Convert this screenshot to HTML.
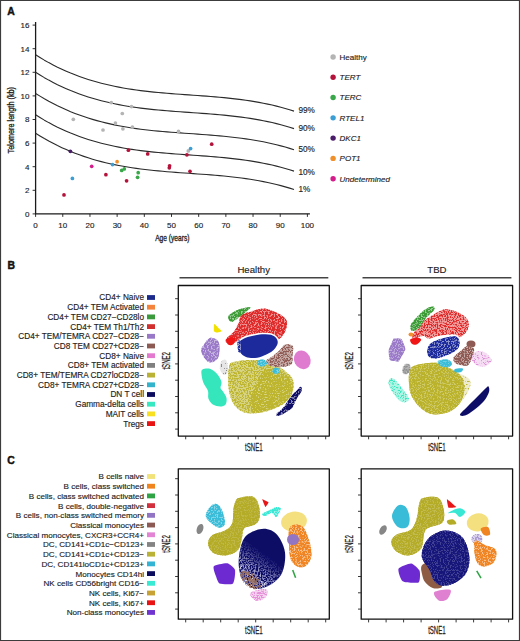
<!DOCTYPE html>
<html><head><meta charset="utf-8"><style>
html,body{margin:0;padding:0;background:#fff;}
text{stroke:#222;stroke-width:0.14px;}
body{width:520px;height:641px;overflow:hidden;position:relative;}
svg{position:absolute;left:0;top:0;}
</style></head><body>
<svg width="520" height="641" viewBox="0 0 520 641" font-family='"Liberation Sans", sans-serif' stroke-linejoin="round">
<rect x="0" y="0" width="520" height="641" fill="#fff"/>
<text x="7.20" y="15.30" font-size="10.40" text-anchor="start" font-weight="bold" font-style="normal" fill="#111" style="stroke:#111;stroke-width:0.45px">A</text>
<line x1="35.60" y1="22.00" x2="35.60" y2="213.90" stroke="#1a1a1a" stroke-width="1.3"/>
<line x1="35.00" y1="213.90" x2="309.90" y2="213.90" stroke="#1a1a1a" stroke-width="1.3"/>
<line x1="32.60" y1="213.90" x2="35.60" y2="213.90" stroke="#1a1a1a" stroke-width="0.9"/>
<text x="29.40" y="216.80" font-size="8.00" text-anchor="end" font-weight="normal" font-style="normal" fill="#222" >0</text>
<line x1="32.60" y1="190.30" x2="35.60" y2="190.30" stroke="#1a1a1a" stroke-width="0.9"/>
<text x="29.40" y="193.20" font-size="8.00" text-anchor="end" font-weight="normal" font-style="normal" fill="#222" >2</text>
<line x1="32.60" y1="166.70" x2="35.60" y2="166.70" stroke="#1a1a1a" stroke-width="0.9"/>
<text x="29.40" y="169.60" font-size="8.00" text-anchor="end" font-weight="normal" font-style="normal" fill="#222" >4</text>
<line x1="32.60" y1="143.10" x2="35.60" y2="143.10" stroke="#1a1a1a" stroke-width="0.9"/>
<text x="29.40" y="146.00" font-size="8.00" text-anchor="end" font-weight="normal" font-style="normal" fill="#222" >6</text>
<line x1="32.60" y1="119.50" x2="35.60" y2="119.50" stroke="#1a1a1a" stroke-width="0.9"/>
<text x="29.40" y="122.40" font-size="8.00" text-anchor="end" font-weight="normal" font-style="normal" fill="#222" >8</text>
<line x1="32.60" y1="95.90" x2="35.60" y2="95.90" stroke="#1a1a1a" stroke-width="0.9"/>
<text x="29.40" y="98.80" font-size="8.00" text-anchor="end" font-weight="normal" font-style="normal" fill="#222" >10</text>
<line x1="32.60" y1="72.30" x2="35.60" y2="72.30" stroke="#1a1a1a" stroke-width="0.9"/>
<text x="29.40" y="75.20" font-size="8.00" text-anchor="end" font-weight="normal" font-style="normal" fill="#222" >12</text>
<line x1="32.60" y1="48.70" x2="35.60" y2="48.70" stroke="#1a1a1a" stroke-width="0.9"/>
<text x="29.40" y="51.60" font-size="8.00" text-anchor="end" font-weight="normal" font-style="normal" fill="#222" >14</text>
<line x1="32.60" y1="25.10" x2="35.60" y2="25.10" stroke="#1a1a1a" stroke-width="0.9"/>
<text x="29.40" y="28.00" font-size="8.00" text-anchor="end" font-weight="normal" font-style="normal" fill="#222" >16</text>
<line x1="35.60" y1="213.90" x2="35.60" y2="216.90" stroke="#1a1a1a" stroke-width="0.9"/>
<text x="35.60" y="227.80" font-size="8.00" text-anchor="middle" font-weight="normal" font-style="normal" fill="#222" >0</text>
<line x1="62.78" y1="213.90" x2="62.78" y2="216.90" stroke="#1a1a1a" stroke-width="0.9"/>
<text x="62.78" y="227.80" font-size="8.00" text-anchor="middle" font-weight="normal" font-style="normal" fill="#222" >10</text>
<line x1="89.96" y1="213.90" x2="89.96" y2="216.90" stroke="#1a1a1a" stroke-width="0.9"/>
<text x="89.96" y="227.80" font-size="8.00" text-anchor="middle" font-weight="normal" font-style="normal" fill="#222" >20</text>
<line x1="117.14" y1="213.90" x2="117.14" y2="216.90" stroke="#1a1a1a" stroke-width="0.9"/>
<text x="117.14" y="227.80" font-size="8.00" text-anchor="middle" font-weight="normal" font-style="normal" fill="#222" >30</text>
<line x1="144.32" y1="213.90" x2="144.32" y2="216.90" stroke="#1a1a1a" stroke-width="0.9"/>
<text x="144.32" y="227.80" font-size="8.00" text-anchor="middle" font-weight="normal" font-style="normal" fill="#222" >40</text>
<line x1="171.50" y1="213.90" x2="171.50" y2="216.90" stroke="#1a1a1a" stroke-width="0.9"/>
<text x="171.50" y="227.80" font-size="8.00" text-anchor="middle" font-weight="normal" font-style="normal" fill="#222" >50</text>
<line x1="198.68" y1="213.90" x2="198.68" y2="216.90" stroke="#1a1a1a" stroke-width="0.9"/>
<text x="198.68" y="227.80" font-size="8.00" text-anchor="middle" font-weight="normal" font-style="normal" fill="#222" >60</text>
<line x1="225.86" y1="213.90" x2="225.86" y2="216.90" stroke="#1a1a1a" stroke-width="0.9"/>
<text x="225.86" y="227.80" font-size="8.00" text-anchor="middle" font-weight="normal" font-style="normal" fill="#222" >70</text>
<line x1="253.04" y1="213.90" x2="253.04" y2="216.90" stroke="#1a1a1a" stroke-width="0.9"/>
<text x="253.04" y="227.80" font-size="8.00" text-anchor="middle" font-weight="normal" font-style="normal" fill="#222" >80</text>
<line x1="280.22" y1="213.90" x2="280.22" y2="216.90" stroke="#1a1a1a" stroke-width="0.9"/>
<text x="280.22" y="227.80" font-size="8.00" text-anchor="middle" font-weight="normal" font-style="normal" fill="#222" >90</text>
<line x1="307.40" y1="213.90" x2="307.40" y2="216.90" stroke="#1a1a1a" stroke-width="0.9"/>
<text x="307.40" y="227.80" font-size="8.00" text-anchor="middle" font-weight="normal" font-style="normal" fill="#222" >100</text>
<text transform="translate(14.2,120.2) rotate(-90) scale(0.88,1)" font-size="8.3" text-anchor="middle" fill="#222" style="stroke-width:0.32px">Telomere length (kb)</text>
<text transform="translate(172.3,240.8) scale(0.8,1)" font-size="8.3" text-anchor="middle" fill="#222" style="stroke-width:0.32px">Age (years)</text>
<path d="M35.60,54.82 L39.98,57.55 L44.36,60.15 L48.74,62.61 L53.12,64.94 L57.50,67.15 L61.88,69.23 L66.26,71.20 L70.64,73.06 L75.02,74.80 L79.40,76.44 L83.78,77.98 L88.16,79.42 L92.54,80.77 L96.92,82.03 L101.29,83.20 L105.67,84.29 L110.05,85.31 L114.43,86.25 L118.81,87.12 L123.19,87.93 L127.57,88.67 L131.95,89.36 L136.33,90.00 L140.71,90.58 L145.09,91.12 L149.47,91.62 L153.85,92.08 L158.23,92.51 L162.61,92.91 L166.99,93.28 L171.37,93.64 L175.75,93.97 L180.13,94.29 L184.51,94.61 L188.89,94.92 L193.27,95.22 L197.65,95.53 L202.03,95.85 L206.41,96.17 L210.79,96.51 L215.17,96.87 L219.55,97.26 L223.93,97.67 L228.31,98.11 L232.68,98.58 L237.06,99.10 L241.44,99.65 L245.82,100.26 L250.20,100.91 L254.58,101.62 L258.96,102.39 L263.34,103.22 L267.72,104.12 L272.10,105.08 L276.48,106.13 L280.86,107.25 L285.24,108.45 L289.62,109.75 L294.00,111.13" fill="none" stroke="#2a2a2a" stroke-width="1.1"/>
<text x="298.40" y="113.25" font-size="8.20" text-anchor="start" font-weight="normal" font-style="normal" fill="#222" >99%</text>
<path d="M35.60,72.32 L39.98,75.05 L44.36,77.65 L48.74,80.11 L53.12,82.44 L57.50,84.65 L61.88,86.73 L66.26,88.70 L70.64,90.56 L75.02,92.30 L79.40,93.94 L83.78,95.48 L88.16,96.92 L92.54,98.27 L96.92,99.53 L101.29,100.70 L105.67,101.79 L110.05,102.81 L114.43,103.75 L118.81,104.62 L123.19,105.43 L127.57,106.17 L131.95,106.86 L136.33,107.50 L140.71,108.08 L145.09,108.62 L149.47,109.12 L153.85,109.58 L158.23,110.01 L162.61,110.41 L166.99,110.78 L171.37,111.14 L175.75,111.47 L180.13,111.79 L184.51,112.11 L188.89,112.42 L193.27,112.72 L197.65,113.03 L202.03,113.35 L206.41,113.67 L210.79,114.01 L215.17,114.37 L219.55,114.76 L223.93,115.17 L228.31,115.61 L232.68,116.08 L237.06,116.60 L241.44,117.15 L245.82,117.76 L250.20,118.41 L254.58,119.12 L258.96,119.89 L263.34,120.72 L267.72,121.62 L272.10,122.58 L276.48,123.63 L280.86,124.75 L285.24,125.95 L289.62,127.25 L294.00,128.63" fill="none" stroke="#2a2a2a" stroke-width="1.1"/>
<text x="298.40" y="131.05" font-size="8.20" text-anchor="start" font-weight="normal" font-style="normal" fill="#222" >90%</text>
<path d="M35.60,93.42 L39.98,96.15 L44.36,98.75 L48.74,101.21 L53.12,103.54 L57.50,105.75 L61.88,107.83 L66.26,109.80 L70.64,111.66 L75.02,113.40 L79.40,115.04 L83.78,116.58 L88.16,118.02 L92.54,119.37 L96.92,120.63 L101.29,121.80 L105.67,122.89 L110.05,123.91 L114.43,124.85 L118.81,125.72 L123.19,126.53 L127.57,127.27 L131.95,127.96 L136.33,128.60 L140.71,129.18 L145.09,129.72 L149.47,130.22 L153.85,130.68 L158.23,131.11 L162.61,131.51 L166.99,131.88 L171.37,132.24 L175.75,132.57 L180.13,132.89 L184.51,133.21 L188.89,133.52 L193.27,133.82 L197.65,134.13 L202.03,134.45 L206.41,134.77 L210.79,135.11 L215.17,135.47 L219.55,135.86 L223.93,136.27 L228.31,136.71 L232.68,137.18 L237.06,137.70 L241.44,138.25 L245.82,138.86 L250.20,139.51 L254.58,140.22 L258.96,140.99 L263.34,141.82 L267.72,142.72 L272.10,143.68 L276.48,144.73 L280.86,145.85 L285.24,147.05 L289.62,148.35 L294.00,149.73" fill="none" stroke="#2a2a2a" stroke-width="1.1"/>
<text x="298.40" y="152.25" font-size="8.20" text-anchor="start" font-weight="normal" font-style="normal" fill="#222" >50%</text>
<path d="M35.60,114.82 L39.98,117.55 L44.36,120.15 L48.74,122.61 L53.12,124.94 L57.50,127.15 L61.88,129.23 L66.26,131.20 L70.64,133.06 L75.02,134.80 L79.40,136.44 L83.78,137.98 L88.16,139.42 L92.54,140.77 L96.92,142.03 L101.29,143.20 L105.67,144.29 L110.05,145.31 L114.43,146.25 L118.81,147.12 L123.19,147.93 L127.57,148.67 L131.95,149.36 L136.33,150.00 L140.71,150.58 L145.09,151.12 L149.47,151.62 L153.85,152.08 L158.23,152.51 L162.61,152.91 L166.99,153.28 L171.37,153.64 L175.75,153.97 L180.13,154.29 L184.51,154.61 L188.89,154.92 L193.27,155.22 L197.65,155.53 L202.03,155.85 L206.41,156.17 L210.79,156.51 L215.17,156.87 L219.55,157.26 L223.93,157.67 L228.31,158.11 L232.68,158.58 L237.06,159.10 L241.44,159.65 L245.82,160.26 L250.20,160.91 L254.58,161.62 L258.96,162.39 L263.34,163.22 L267.72,164.12 L272.10,165.08 L276.48,166.13 L280.86,167.25 L285.24,168.45 L289.62,169.75 L294.00,171.13" fill="none" stroke="#2a2a2a" stroke-width="1.1"/>
<text x="298.40" y="175.05" font-size="8.20" text-anchor="start" font-weight="normal" font-style="normal" fill="#222" >10%</text>
<path d="M35.60,133.22 L39.98,135.95 L44.36,138.55 L48.74,141.01 L53.12,143.34 L57.50,145.55 L61.88,147.63 L66.26,149.60 L70.64,151.46 L75.02,153.20 L79.40,154.84 L83.78,156.38 L88.16,157.82 L92.54,159.17 L96.92,160.43 L101.29,161.60 L105.67,162.69 L110.05,163.71 L114.43,164.65 L118.81,165.52 L123.19,166.33 L127.57,167.07 L131.95,167.76 L136.33,168.40 L140.71,168.98 L145.09,169.52 L149.47,170.02 L153.85,170.48 L158.23,170.91 L162.61,171.31 L166.99,171.68 L171.37,172.04 L175.75,172.37 L180.13,172.69 L184.51,173.01 L188.89,173.32 L193.27,173.62 L197.65,173.93 L202.03,174.25 L206.41,174.57 L210.79,174.91 L215.17,175.27 L219.55,175.66 L223.93,176.07 L228.31,176.51 L232.68,176.98 L237.06,177.50 L241.44,178.05 L245.82,178.66 L250.20,179.31 L254.58,180.02 L258.96,180.79 L263.34,181.62 L267.72,182.52 L272.10,183.48 L276.48,184.53 L280.86,185.65 L285.24,186.85 L289.62,188.15 L294.00,189.53" fill="none" stroke="#2a2a2a" stroke-width="1.1"/>
<text x="298.40" y="191.95" font-size="8.20" text-anchor="start" font-weight="normal" font-style="normal" fill="#222" >1%</text>
<circle cx="111.3" cy="102.6" r="1.85" fill="#b4b4b4"/>
<circle cx="131.5" cy="106.6" r="1.85" fill="#b4b4b4"/>
<circle cx="122.3" cy="113.5" r="1.85" fill="#b4b4b4"/>
<circle cx="73.3" cy="119.3" r="1.85" fill="#b4b4b4"/>
<circle cx="115.4" cy="123.1" r="1.85" fill="#b4b4b4"/>
<circle cx="103.0" cy="130.0" r="1.85" fill="#b4b4b4"/>
<circle cx="122.9" cy="128.8" r="1.85" fill="#b4b4b4"/>
<circle cx="132.4" cy="127.1" r="1.85" fill="#b4b4b4"/>
<circle cx="178.5" cy="131.4" r="1.85" fill="#b4b4b4"/>
<circle cx="188.3" cy="150.9" r="1.85" fill="#b4b4b4"/>
<circle cx="128.4" cy="150.2" r="1.85" fill="#b5123b"/>
<circle cx="147.7" cy="153.9" r="1.85" fill="#b5123b"/>
<circle cx="169.6" cy="165.8" r="1.85" fill="#b5123b"/>
<circle cx="169.3" cy="167.8" r="1.85" fill="#b5123b"/>
<circle cx="105.9" cy="174.7" r="1.85" fill="#b5123b"/>
<circle cx="126.6" cy="180.8" r="1.85" fill="#b5123b"/>
<circle cx="64.0" cy="194.9" r="1.85" fill="#b5123b"/>
<circle cx="186.9" cy="154.8" r="1.85" fill="#b5123b"/>
<circle cx="211.7" cy="144.2" r="1.85" fill="#b5123b"/>
<circle cx="190.0" cy="171.3" r="1.85" fill="#b5123b"/>
<circle cx="121.7" cy="170.4" r="1.85" fill="#3aa84a"/>
<circle cx="124.3" cy="168.9" r="1.85" fill="#3aa84a"/>
<circle cx="138.2" cy="172.7" r="1.85" fill="#3aa84a"/>
<circle cx="137.6" cy="177.3" r="1.85" fill="#3aa84a"/>
<circle cx="112.5" cy="164.6" r="1.85" fill="#3b9fd6"/>
<circle cx="72.4" cy="178.4" r="1.85" fill="#3b9fd6"/>
<circle cx="190.6" cy="148.6" r="1.85" fill="#3b9fd6"/>
<circle cx="70.4" cy="151.3" r="1.85" fill="#4a1c6a"/>
<circle cx="117.1" cy="161.7" r="1.85" fill="#f0902a"/>
<circle cx="91.7" cy="166.3" r="1.85" fill="#d41c8a"/>
<circle cx="333.1" cy="57.00" r="2.7" fill="#b4b4b4"/>
<text x="339.60" y="59.90" font-size="8.00" text-anchor="start" font-weight="normal" font-style="normal" fill="#222" >Healthy</text>
<circle cx="333.1" cy="77.28" r="2.7" fill="#b5123b"/>
<text x="339.60" y="80.18" font-size="8.00" text-anchor="start" font-weight="normal" font-style="italic" fill="#222" >TERT</text>
<circle cx="333.1" cy="97.56" r="2.7" fill="#3aa84a"/>
<text x="339.60" y="100.46" font-size="8.00" text-anchor="start" font-weight="normal" font-style="italic" fill="#222" >TERC</text>
<circle cx="333.1" cy="117.84" r="2.7" fill="#3b9fd6"/>
<text x="339.60" y="120.74" font-size="8.00" text-anchor="start" font-weight="normal" font-style="italic" fill="#222" >RTEL1</text>
<circle cx="333.1" cy="138.12" r="2.7" fill="#4a1c6a"/>
<text x="339.60" y="141.02" font-size="8.00" text-anchor="start" font-weight="normal" font-style="italic" fill="#222" >DKC1</text>
<circle cx="333.1" cy="158.40" r="2.7" fill="#f0902a"/>
<text x="339.60" y="161.30" font-size="8.00" text-anchor="start" font-weight="normal" font-style="italic" fill="#222" >POT1</text>
<circle cx="333.1" cy="178.68" r="2.7" fill="#d41c8a"/>
<text x="339.60" y="181.58" font-size="8.00" text-anchor="start" font-weight="normal" font-style="italic" fill="#222" >Undetermined</text>
<text x="7.40" y="268.80" font-size="10.40" text-anchor="start" font-weight="bold" font-style="normal" fill="#111" style="stroke:#111;stroke-width:0.45px">B</text>
<text x="7.20" y="463.60" font-size="10.40" text-anchor="start" font-weight="bold" font-style="normal" fill="#111" style="stroke:#111;stroke-width:0.45px">C</text>
<rect x="178.30" y="285.50" width="151.00" height="150.60" fill="none" stroke="#111" stroke-width="1.3"/><line x1="175.10" y1="298.70" x2="178.30" y2="298.70" stroke="#222" stroke-width="0.9"/><line x1="175.10" y1="315.00" x2="178.30" y2="315.00" stroke="#222" stroke-width="0.9"/><line x1="175.10" y1="331.30" x2="178.30" y2="331.30" stroke="#222" stroke-width="0.9"/><line x1="175.10" y1="347.60" x2="178.30" y2="347.60" stroke="#222" stroke-width="0.9"/><line x1="175.10" y1="363.90" x2="178.30" y2="363.90" stroke="#222" stroke-width="0.9"/><line x1="175.10" y1="380.20" x2="178.30" y2="380.20" stroke="#222" stroke-width="0.9"/><line x1="175.10" y1="396.50" x2="178.30" y2="396.50" stroke="#222" stroke-width="0.9"/><line x1="175.10" y1="412.80" x2="178.30" y2="412.80" stroke="#222" stroke-width="0.9"/><line x1="175.10" y1="429.10" x2="178.30" y2="429.10" stroke="#222" stroke-width="0.9"/><line x1="185.70" y1="436.10" x2="185.70" y2="439.30" stroke="#222" stroke-width="0.9"/><line x1="203.20" y1="436.10" x2="203.20" y2="439.30" stroke="#222" stroke-width="0.9"/><line x1="220.70" y1="436.10" x2="220.70" y2="439.30" stroke="#222" stroke-width="0.9"/><line x1="238.20" y1="436.10" x2="238.20" y2="439.30" stroke="#222" stroke-width="0.9"/><line x1="255.70" y1="436.10" x2="255.70" y2="439.30" stroke="#222" stroke-width="0.9"/><line x1="273.20" y1="436.10" x2="273.20" y2="439.30" stroke="#222" stroke-width="0.9"/><line x1="290.70" y1="436.10" x2="290.70" y2="439.30" stroke="#222" stroke-width="0.9"/><line x1="308.20" y1="436.10" x2="308.20" y2="439.30" stroke="#222" stroke-width="0.9"/><line x1="325.70" y1="436.10" x2="325.70" y2="439.30" stroke="#222" stroke-width="0.9"/><text transform="translate(253.80,450.90) scale(0.585,1)" font-size="10.4" text-anchor="middle" fill="#222" style="stroke-width:0.25px">tSNE1</text><text transform="translate(169.70,360.80) rotate(-90) scale(0.585,1)" font-size="10.4" text-anchor="middle" fill="#222" style="stroke-width:0.25px">tSNE2</text>
<rect x="178.30" y="468.80" width="151.00" height="150.40" fill="none" stroke="#111" stroke-width="1.3"/><line x1="175.10" y1="478.70" x2="178.30" y2="478.70" stroke="#222" stroke-width="0.9"/><line x1="175.10" y1="495.00" x2="178.30" y2="495.00" stroke="#222" stroke-width="0.9"/><line x1="175.10" y1="511.30" x2="178.30" y2="511.30" stroke="#222" stroke-width="0.9"/><line x1="175.10" y1="527.60" x2="178.30" y2="527.60" stroke="#222" stroke-width="0.9"/><line x1="175.10" y1="543.90" x2="178.30" y2="543.90" stroke="#222" stroke-width="0.9"/><line x1="175.10" y1="560.20" x2="178.30" y2="560.20" stroke="#222" stroke-width="0.9"/><line x1="175.10" y1="576.50" x2="178.30" y2="576.50" stroke="#222" stroke-width="0.9"/><line x1="175.10" y1="592.80" x2="178.30" y2="592.80" stroke="#222" stroke-width="0.9"/><line x1="175.10" y1="609.10" x2="178.30" y2="609.10" stroke="#222" stroke-width="0.9"/><line x1="185.70" y1="619.20" x2="185.70" y2="622.40" stroke="#222" stroke-width="0.9"/><line x1="203.20" y1="619.20" x2="203.20" y2="622.40" stroke="#222" stroke-width="0.9"/><line x1="220.70" y1="619.20" x2="220.70" y2="622.40" stroke="#222" stroke-width="0.9"/><line x1="238.20" y1="619.20" x2="238.20" y2="622.40" stroke="#222" stroke-width="0.9"/><line x1="255.70" y1="619.20" x2="255.70" y2="622.40" stroke="#222" stroke-width="0.9"/><line x1="273.20" y1="619.20" x2="273.20" y2="622.40" stroke="#222" stroke-width="0.9"/><line x1="290.70" y1="619.20" x2="290.70" y2="622.40" stroke="#222" stroke-width="0.9"/><line x1="308.20" y1="619.20" x2="308.20" y2="622.40" stroke="#222" stroke-width="0.9"/><line x1="325.70" y1="619.20" x2="325.70" y2="622.40" stroke="#222" stroke-width="0.9"/><text transform="translate(253.80,634.00) scale(0.585,1)" font-size="10.4" text-anchor="middle" fill="#222" style="stroke-width:0.25px">tSNE1</text><text transform="translate(169.70,544.00) rotate(-90) scale(0.585,1)" font-size="10.4" text-anchor="middle" fill="#222" style="stroke-width:0.25px">tSNE2</text>
<rect x="361.20" y="285.50" width="151.40" height="150.60" fill="none" stroke="#111" stroke-width="1.3"/><line x1="358.00" y1="298.70" x2="361.20" y2="298.70" stroke="#222" stroke-width="0.9"/><line x1="358.00" y1="315.00" x2="361.20" y2="315.00" stroke="#222" stroke-width="0.9"/><line x1="358.00" y1="331.30" x2="361.20" y2="331.30" stroke="#222" stroke-width="0.9"/><line x1="358.00" y1="347.60" x2="361.20" y2="347.60" stroke="#222" stroke-width="0.9"/><line x1="358.00" y1="363.90" x2="361.20" y2="363.90" stroke="#222" stroke-width="0.9"/><line x1="358.00" y1="380.20" x2="361.20" y2="380.20" stroke="#222" stroke-width="0.9"/><line x1="358.00" y1="396.50" x2="361.20" y2="396.50" stroke="#222" stroke-width="0.9"/><line x1="358.00" y1="412.80" x2="361.20" y2="412.80" stroke="#222" stroke-width="0.9"/><line x1="358.00" y1="429.10" x2="361.20" y2="429.10" stroke="#222" stroke-width="0.9"/><line x1="368.60" y1="436.10" x2="368.60" y2="439.30" stroke="#222" stroke-width="0.9"/><line x1="386.10" y1="436.10" x2="386.10" y2="439.30" stroke="#222" stroke-width="0.9"/><line x1="403.60" y1="436.10" x2="403.60" y2="439.30" stroke="#222" stroke-width="0.9"/><line x1="421.10" y1="436.10" x2="421.10" y2="439.30" stroke="#222" stroke-width="0.9"/><line x1="438.60" y1="436.10" x2="438.60" y2="439.30" stroke="#222" stroke-width="0.9"/><line x1="456.10" y1="436.10" x2="456.10" y2="439.30" stroke="#222" stroke-width="0.9"/><line x1="473.60" y1="436.10" x2="473.60" y2="439.30" stroke="#222" stroke-width="0.9"/><line x1="491.10" y1="436.10" x2="491.10" y2="439.30" stroke="#222" stroke-width="0.9"/><line x1="508.60" y1="436.10" x2="508.60" y2="439.30" stroke="#222" stroke-width="0.9"/><text transform="translate(436.90,450.90) scale(0.585,1)" font-size="10.4" text-anchor="middle" fill="#222" style="stroke-width:0.25px">tSNE1</text><text transform="translate(352.60,360.80) rotate(-90) scale(0.585,1)" font-size="10.4" text-anchor="middle" fill="#222" style="stroke-width:0.25px">tSNE2</text>
<rect x="361.20" y="468.80" width="151.40" height="150.40" fill="none" stroke="#111" stroke-width="1.3"/><line x1="358.00" y1="478.70" x2="361.20" y2="478.70" stroke="#222" stroke-width="0.9"/><line x1="358.00" y1="495.00" x2="361.20" y2="495.00" stroke="#222" stroke-width="0.9"/><line x1="358.00" y1="511.30" x2="361.20" y2="511.30" stroke="#222" stroke-width="0.9"/><line x1="358.00" y1="527.60" x2="361.20" y2="527.60" stroke="#222" stroke-width="0.9"/><line x1="358.00" y1="543.90" x2="361.20" y2="543.90" stroke="#222" stroke-width="0.9"/><line x1="358.00" y1="560.20" x2="361.20" y2="560.20" stroke="#222" stroke-width="0.9"/><line x1="358.00" y1="576.50" x2="361.20" y2="576.50" stroke="#222" stroke-width="0.9"/><line x1="358.00" y1="592.80" x2="361.20" y2="592.80" stroke="#222" stroke-width="0.9"/><line x1="358.00" y1="609.10" x2="361.20" y2="609.10" stroke="#222" stroke-width="0.9"/><line x1="368.60" y1="619.20" x2="368.60" y2="622.40" stroke="#222" stroke-width="0.9"/><line x1="386.10" y1="619.20" x2="386.10" y2="622.40" stroke="#222" stroke-width="0.9"/><line x1="403.60" y1="619.20" x2="403.60" y2="622.40" stroke="#222" stroke-width="0.9"/><line x1="421.10" y1="619.20" x2="421.10" y2="622.40" stroke="#222" stroke-width="0.9"/><line x1="438.60" y1="619.20" x2="438.60" y2="622.40" stroke="#222" stroke-width="0.9"/><line x1="456.10" y1="619.20" x2="456.10" y2="622.40" stroke="#222" stroke-width="0.9"/><line x1="473.60" y1="619.20" x2="473.60" y2="622.40" stroke="#222" stroke-width="0.9"/><line x1="491.10" y1="619.20" x2="491.10" y2="622.40" stroke="#222" stroke-width="0.9"/><line x1="508.60" y1="619.20" x2="508.60" y2="622.40" stroke="#222" stroke-width="0.9"/><text transform="translate(436.90,634.00) scale(0.585,1)" font-size="10.4" text-anchor="middle" fill="#222" style="stroke-width:0.25px">tSNE1</text><text transform="translate(352.60,544.00) rotate(-90) scale(0.585,1)" font-size="10.4" text-anchor="middle" fill="#222" style="stroke-width:0.25px">tSNE2</text>
<line x1="179.5" y1="277.7" x2="328.3" y2="277.7" stroke="#444" stroke-width="1.4"/>
<line x1="362.5" y1="277.7" x2="511.4" y2="277.7" stroke="#444" stroke-width="1.4"/>
<text x="253.70" y="273.40" font-size="9.60" text-anchor="middle" font-weight="normal" font-style="normal" fill="#222" >Healthy</text>
<text x="436.90" y="273.30" font-size="9.60" text-anchor="middle" font-weight="normal" font-style="normal" fill="#222" >TBD</text>
<rect x="147.0" y="295.10" width="8.0" height="4.8" fill="#1c2a8c"/>
<text x="144.00" y="300.40" font-size="8.25" text-anchor="end" font-weight="normal" font-style="normal" fill="#222" >CD4+ Naive</text>
<rect x="147.0" y="304.80" width="8.0" height="4.8" fill="#f4843c"/>
<text x="144.00" y="310.10" font-size="8.25" text-anchor="end" font-weight="normal" font-style="normal" fill="#222" >CD4+ TEM Activated</text>
<rect x="147.0" y="314.50" width="8.0" height="4.8" fill="#3a9a3c"/>
<text x="144.00" y="319.80" font-size="8.25" text-anchor="end" font-weight="normal" font-style="normal" fill="#222" >CD4+ TEM CD27−CD28lo</text>
<rect x="147.0" y="324.20" width="8.0" height="4.8" fill="#d2302e"/>
<text x="144.00" y="329.50" font-size="8.25" text-anchor="end" font-weight="normal" font-style="normal" fill="#222" >CD4+ TEM Th1/Th2</text>
<rect x="147.0" y="333.90" width="8.0" height="4.8" fill="#9a78c8"/>
<text x="144.00" y="339.20" font-size="8.25" text-anchor="end" font-weight="normal" font-style="normal" fill="#222" >CD4+ TEM/TEMRA CD27−CD28−</text>
<rect x="147.0" y="343.60" width="8.0" height="4.8" fill="#8c5a52"/>
<text x="144.00" y="348.90" font-size="8.25" text-anchor="end" font-weight="normal" font-style="normal" fill="#222" >CD8 TEM CD27+CD28−</text>
<rect x="147.0" y="353.30" width="8.0" height="4.8" fill="#e47ad0"/>
<text x="144.00" y="358.60" font-size="8.25" text-anchor="end" font-weight="normal" font-style="normal" fill="#222" >CD8+ Naive</text>
<rect x="147.0" y="363.00" width="8.0" height="4.8" fill="#808080"/>
<text x="144.00" y="368.30" font-size="8.25" text-anchor="end" font-weight="normal" font-style="normal" fill="#222" >CD8+ TEM activated</text>
<rect x="147.0" y="372.70" width="8.0" height="4.8" fill="#bab236"/>
<text x="144.00" y="378.00" font-size="8.25" text-anchor="end" font-weight="normal" font-style="normal" fill="#222" >CD8+ TEM/TEMRA CD27loCD28−</text>
<rect x="147.0" y="382.40" width="8.0" height="4.8" fill="#34b4cc"/>
<text x="144.00" y="387.70" font-size="8.25" text-anchor="end" font-weight="normal" font-style="normal" fill="#222" >CD8+ TEMRA CD27+CD28−</text>
<rect x="147.0" y="392.10" width="8.0" height="4.8" fill="#0c0c5e"/>
<text x="144.00" y="397.40" font-size="8.25" text-anchor="end" font-weight="normal" font-style="normal" fill="#222" >DN T cell</text>
<rect x="147.0" y="401.80" width="8.0" height="4.8" fill="#38e8c0"/>
<text x="144.00" y="407.10" font-size="8.25" text-anchor="end" font-weight="normal" font-style="normal" fill="#222" >Gamma-delta cells</text>
<rect x="147.0" y="411.50" width="8.0" height="4.8" fill="#f8e020"/>
<text x="144.00" y="416.80" font-size="8.25" text-anchor="end" font-weight="normal" font-style="normal" fill="#222" >MAIT cells</text>
<rect x="147.0" y="421.20" width="8.0" height="4.8" fill="#e81414"/>
<text x="144.00" y="426.50" font-size="8.25" text-anchor="end" font-weight="normal" font-style="normal" fill="#222" >Tregs</text>
<rect x="147.0" y="474.10" width="8.0" height="4.8" fill="#f2e27a"/>
<text x="144.00" y="479.40" font-size="8.10" text-anchor="end" font-weight="normal" font-style="normal" fill="#222" >B cells naive</text>
<rect x="147.0" y="483.81" width="8.0" height="4.8" fill="#f0841e"/>
<text x="144.00" y="489.11" font-size="8.10" text-anchor="end" font-weight="normal" font-style="normal" fill="#222" >B cells, class switched</text>
<rect x="147.0" y="493.52" width="8.0" height="4.8" fill="#2ea444"/>
<text x="144.00" y="498.82" font-size="8.10" text-anchor="end" font-weight="normal" font-style="normal" fill="#222" >B cells, class switched activated</text>
<rect x="147.0" y="503.23" width="8.0" height="4.8" fill="#d2303c"/>
<text x="144.00" y="508.53" font-size="8.10" text-anchor="end" font-weight="normal" font-style="normal" fill="#222" >B cells, double-negative</text>
<rect x="147.0" y="512.94" width="8.0" height="4.8" fill="#9274c4"/>
<text x="144.00" y="518.24" font-size="8.10" text-anchor="end" font-weight="normal" font-style="normal" fill="#222" >B cells, non-class switched memory</text>
<rect x="147.0" y="522.65" width="8.0" height="4.8" fill="#8c5a52"/>
<text x="144.00" y="527.95" font-size="8.10" text-anchor="end" font-weight="normal" font-style="normal" fill="#222" >Classical monocytes</text>
<rect x="147.0" y="532.36" width="8.0" height="4.8" fill="#e484d4"/>
<text x="144.00" y="537.66" font-size="8.10" text-anchor="end" font-weight="normal" font-style="normal" fill="#222" >Classical monocytes, CXCR3+CCR4+</text>
<rect x="147.0" y="542.07" width="8.0" height="4.8" fill="#848484"/>
<text x="144.00" y="547.37" font-size="8.10" text-anchor="end" font-weight="normal" font-style="normal" fill="#222" >DC, CD141+CD1c−CD123+</text>
<rect x="147.0" y="551.78" width="8.0" height="4.8" fill="#bab236"/>
<text x="144.00" y="557.08" font-size="8.10" text-anchor="end" font-weight="normal" font-style="normal" fill="#222" >DC, CD141+CD1c+CD123−</text>
<rect x="147.0" y="561.49" width="8.0" height="4.8" fill="#34b4d4"/>
<text x="144.00" y="566.79" font-size="8.10" text-anchor="end" font-weight="normal" font-style="normal" fill="#222" >DC, CD141loCD1c+CD123+</text>
<rect x="147.0" y="571.20" width="8.0" height="4.8" fill="#0c0c5e"/>
<text x="144.00" y="576.50" font-size="8.10" text-anchor="end" font-weight="normal" font-style="normal" fill="#222" >Monocytes CD14hi</text>
<rect x="147.0" y="580.91" width="8.0" height="4.8" fill="#38ead4"/>
<text x="144.00" y="586.21" font-size="8.10" text-anchor="end" font-weight="normal" font-style="normal" fill="#222" >NK cells CD56bright CD16−</text>
<rect x="147.0" y="590.62" width="8.0" height="4.8" fill="#c8a234"/>
<text x="144.00" y="595.92" font-size="8.10" text-anchor="end" font-weight="normal" font-style="normal" fill="#222" >NK cells, Ki67−</text>
<rect x="147.0" y="600.33" width="8.0" height="4.8" fill="#e81414"/>
<text x="144.00" y="605.63" font-size="8.10" text-anchor="end" font-weight="normal" font-style="normal" fill="#222" >NK cells, Ki67+</text>
<rect x="147.0" y="610.04" width="8.0" height="4.8" fill="#7034d0"/>
<text x="144.00" y="615.34" font-size="8.10" text-anchor="end" font-weight="normal" font-style="normal" fill="#222" >Non-class monocytes</text>
<defs><filter id="soft" x="0" y="0" width="520" height="641" filterUnits="userSpaceOnUse"><feGaussianBlur stdDeviation="0.3"/></filter></defs><g filter="url(#soft)"><defs><filter id="hi" x="-5%" y="-5%" width="110%" height="110%"><feTurbulence type="fractalNoise" baseFrequency="0.70" numOctaves="2" seed="2" result="n"/><feColorMatrix in="n" type="matrix" values="0 0 0 0 0 0 0 0 0 0 0 0 0 0 0 8 0 0 0 -3.00" result="m"/><feGaussianBlur in="m" stdDeviation="0.35" result="mb"/><feComposite in="SourceGraphic" in2="mb" operator="in"/></filter><filter id="mid" x="-5%" y="-5%" width="110%" height="110%"><feTurbulence type="fractalNoise" baseFrequency="0.70" numOctaves="2" seed="5" result="n"/><feColorMatrix in="n" type="matrix" values="0 0 0 0 0 0 0 0 0 0 0 0 0 0 0 8 0 0 0 -3.60" result="m"/><feGaussianBlur in="m" stdDeviation="0.35" result="mb"/><feComposite in="SourceGraphic" in2="mb" operator="in"/></filter><filter id="lo" x="-5%" y="-5%" width="110%" height="110%"><feTurbulence type="fractalNoise" baseFrequency="0.70" numOctaves="2" seed="9" result="n"/><feColorMatrix in="n" type="matrix" values="0 0 0 0 0 0 0 0 0 0 0 0 0 0 0 8 0 0 0 -4.20" result="m"/><feGaussianBlur in="m" stdDeviation="0.35" result="mb"/><feComposite in="SourceGraphic" in2="mb" operator="in"/></filter><filter id="vlo" x="-5%" y="-5%" width="110%" height="110%"><feTurbulence type="fractalNoise" baseFrequency="0.70" numOctaves="2" seed="11" result="n"/><feColorMatrix in="n" type="matrix" values="0 0 0 0 0 0 0 0 0 0 0 0 0 0 0 8 0 0 0 -4.70" result="m"/><feGaussianBlur in="m" stdDeviation="0.35" result="mb"/><feComposite in="SourceGraphic" in2="mb" operator="in"/></filter></defs>
<path d="M232.0,362.5 C235.5,361.2 243.7,360.1 250.0,360.0 C256.3,359.9 264.2,360.2 270.0,362.0 C275.8,363.8 281.2,368.0 285.0,371.0 C288.8,374.0 291.8,376.2 293.0,380.0 C294.2,383.8 293.7,390.0 292.0,394.0 C290.3,398.0 287.0,401.2 283.0,404.0 C279.0,406.8 273.2,409.4 268.0,411.0 C262.8,412.6 256.5,413.5 252.0,413.5 C247.5,413.5 244.2,412.8 241.0,411.0 C237.8,409.2 235.0,406.3 233.0,403.0 C231.0,399.7 229.8,395.3 229.0,391.0 C228.2,386.7 228.0,380.8 228.0,377.0 C228.0,373.2 228.3,370.4 229.0,368.0 C229.7,365.6 228.5,363.8 232.0,362.5Z" fill="#d8d485"/>
<path d="M232.0,362.5 C235.5,361.2 243.7,360.1 250.0,360.0 C256.3,359.9 264.2,360.2 270.0,362.0 C275.8,363.8 281.2,368.0 285.0,371.0 C288.8,374.0 291.8,376.2 293.0,380.0 C294.2,383.8 293.7,390.0 292.0,394.0 C290.3,398.0 287.0,401.2 283.0,404.0 C279.0,406.8 273.2,409.4 268.0,411.0 C262.8,412.6 256.5,413.5 252.0,413.5 C247.5,413.5 244.2,412.8 241.0,411.0 C237.8,409.2 235.0,406.3 233.0,403.0 C231.0,399.7 229.8,395.3 229.0,391.0 C228.2,386.7 228.0,380.8 228.0,377.0 C228.0,373.2 228.3,370.4 229.0,368.0 C229.7,365.6 228.5,363.8 232.0,362.5Z" fill="#bdb52e" filter="url(#mid)"/>
<path d="M262.0,372.0 C265.2,369.3 271.0,368.5 275.0,369.0 C279.0,369.5 283.1,372.5 286.0,375.0 C288.9,377.5 291.8,380.3 292.5,384.0 C293.2,387.7 292.1,393.3 290.0,397.0 C287.9,400.7 284.3,403.7 280.0,406.0 C275.7,408.3 268.7,410.0 264.0,411.0 C259.3,412.0 254.3,413.8 252.0,412.0 C249.7,410.2 249.3,404.5 250.0,400.0 C250.7,395.5 254.0,389.7 256.0,385.0 C258.0,380.3 258.8,374.7 262.0,372.0Z" fill="#bdb52e" filter="url(#hi)"/>
<path d="M221.0,362.0 C222.0,360.5 224.8,358.5 226.0,360.0 C227.2,361.5 228.3,368.5 228.0,371.0 C227.7,373.5 225.3,375.3 224.0,375.0 C222.7,374.7 220.5,371.2 220.0,369.0 C219.5,366.8 220.0,363.5 221.0,362.0Z" fill="#e6e6e6"/>
<path d="M221.0,362.0 C222.0,360.5 224.8,358.5 226.0,360.0 C227.2,361.5 228.3,368.5 228.0,371.0 C227.7,373.5 225.3,375.3 224.0,375.0 C222.7,374.7 220.5,371.2 220.0,369.0 C219.5,366.8 220.0,363.5 221.0,362.0Z" fill="#868686" filter="url(#vlo)"/>
<path d="M241.0,315.5 C242.9,313.6 246.4,312.9 250.0,311.8 C253.6,310.6 259.2,308.9 262.5,308.6 C265.8,308.3 266.9,308.9 270.0,310.0 C273.1,311.1 278.2,313.0 281.0,315.0 C283.8,317.0 286.3,319.0 287.0,321.8 C287.7,324.5 286.4,328.8 285.0,331.8 C283.6,334.7 280.8,338.7 278.8,339.2 C276.8,339.8 275.5,336.0 273.0,335.0 C270.5,334.0 267.4,333.1 264.0,333.0 C260.6,332.9 256.0,333.8 252.5,334.5 C249.0,335.2 246.1,335.6 243.0,337.0 C239.9,338.4 236.6,342.0 234.0,343.0 C231.4,344.0 228.8,343.6 227.5,343.0 C226.2,342.4 225.0,341.1 226.0,339.2 C227.0,337.4 231.6,334.5 233.8,331.8 C235.9,329.0 237.5,325.7 238.8,323.0 C240.0,320.3 239.1,317.4 241.0,315.5Z" fill="#ef9494"/>
<path d="M241.0,315.5 C242.9,313.6 246.4,312.9 250.0,311.8 C253.6,310.6 259.2,308.9 262.5,308.6 C265.8,308.3 266.9,308.9 270.0,310.0 C273.1,311.1 278.2,313.0 281.0,315.0 C283.8,317.0 286.3,319.0 287.0,321.8 C287.7,324.5 286.4,328.8 285.0,331.8 C283.6,334.7 280.8,338.7 278.8,339.2 C276.8,339.8 275.5,336.0 273.0,335.0 C270.5,334.0 267.4,333.1 264.0,333.0 C260.6,332.9 256.0,333.8 252.5,334.5 C249.0,335.2 246.1,335.6 243.0,337.0 C239.9,338.4 236.6,342.0 234.0,343.0 C231.4,344.0 228.8,343.6 227.5,343.0 C226.2,342.4 225.0,341.1 226.0,339.2 C227.0,337.4 231.6,334.5 233.8,331.8 C235.9,329.0 237.5,325.7 238.8,323.0 C240.0,320.3 239.1,317.4 241.0,315.5Z" fill="#e02a2a" filter="url(#hi)"/>
<path d="M232.0,333.0 C233.5,330.7 237.7,327.8 240.0,328.0 C242.3,328.2 246.3,332.2 246.0,334.0 C245.7,335.8 240.5,337.7 238.0,339.0 C235.5,340.3 232.0,343.0 231.0,342.0 C230.0,341.0 230.5,335.3 232.0,333.0Z" fill="#e02a2a" filter="url(#lo)"/>
<path d="M226.5,339.5 C227.0,338.2 229.5,337.1 231.0,337.0 C232.5,336.9 235.2,337.8 235.5,339.0 C235.8,340.2 234.2,343.6 233.0,344.5 C231.8,345.4 229.1,345.3 228.0,344.5 C226.9,343.7 226.0,340.8 226.5,339.5Z" fill="#f01818"/>
<path d="M239.0,343.0 C239.7,340.8 241.8,339.7 244.0,338.5 C246.2,337.3 249.0,336.7 252.0,336.0 C255.0,335.3 258.8,334.5 262.0,334.3 C265.2,334.1 268.6,334.1 271.0,334.8 C273.4,335.5 275.4,337.0 276.5,338.5 C277.6,340.0 278.1,342.0 277.5,344.0 C276.9,346.0 275.2,348.6 273.0,350.5 C270.8,352.4 267.0,354.2 264.0,355.5 C261.0,356.8 258.0,357.8 255.0,358.0 C252.0,358.2 248.5,358.0 246.0,357.0 C243.5,356.0 241.2,354.3 240.0,352.0 C238.8,349.7 238.3,345.2 239.0,343.0Z" fill="#1c2a9c" stroke="#fff" stroke-width="3" paint-order="stroke"/>
<path d="M237.5,342.0 C237.8,340.2 239.4,339.7 240.0,341.0 C240.6,342.3 241.2,348.2 241.0,350.0 C240.8,351.8 239.1,353.3 238.5,352.0 C237.9,350.7 237.2,343.8 237.5,342.0Z" fill="#a4a9d7"/>
<path d="M237.5,342.0 C237.8,340.2 239.4,339.7 240.0,341.0 C240.6,342.3 241.2,348.2 241.0,350.0 C240.8,351.8 239.1,353.3 238.5,352.0 C237.9,350.7 237.2,343.8 237.5,342.0Z" fill="#1c2a9c" filter="url(#hi)"/>
<path d="M228.8,315.5 C230.1,313.7 234.2,311.3 237.5,309.9 C240.8,308.5 246.7,307.4 248.8,307.2 C250.8,307.0 250.8,307.4 249.6,308.8 C248.3,310.2 244.1,313.3 241.2,315.5 C238.4,317.7 234.5,320.9 232.5,321.8 C230.5,322.6 230.0,321.5 229.4,320.5 C228.8,319.5 227.4,317.3 228.8,315.5Z" fill="#9ccd99"/>
<path d="M228.8,315.5 C230.1,313.7 234.2,311.3 237.5,309.9 C240.8,308.5 246.7,307.4 248.8,307.2 C250.8,307.0 250.8,307.4 249.6,308.8 C248.3,310.2 244.1,313.3 241.2,315.5 C238.4,317.7 234.5,320.9 232.5,321.8 C230.5,322.6 230.0,321.5 229.4,320.5 C228.8,319.5 227.4,317.3 228.8,315.5Z" fill="#3a9c34" filter="url(#hi)"/>
<path d="M214.3,323.9 C214.9,323.7 218.8,328.4 219.5,329.1 C220.2,329.8 221.9,331.0 221.7,331.3 C221.5,331.6 218.1,332.5 217.3,332.5 C216.5,332.5 214.3,332.2 214.0,331.3 C213.7,330.4 213.8,324.1 214.3,323.9Z" fill="#f2e000"/>
<path d="M209.8,338.0 C212.0,337.2 215.7,338.7 217.3,340.2 C218.9,341.7 219.4,343.9 219.5,346.9 C219.6,349.9 219.4,355.4 218.0,358.0 C216.6,360.6 213.4,362.2 211.3,362.5 C209.2,362.8 207.1,361.5 205.4,359.5 C203.7,357.5 201.4,353.1 201.2,350.6 C200.9,348.1 202.5,346.8 203.9,344.7 C205.3,342.6 207.6,338.8 209.8,338.0Z" fill="#c7b5e0"/>
<path d="M209.8,338.0 C212.0,337.2 215.7,338.7 217.3,340.2 C218.9,341.7 219.4,343.9 219.5,346.9 C219.6,349.9 219.4,355.4 218.0,358.0 C216.6,360.6 213.4,362.2 211.3,362.5 C209.2,362.8 207.1,361.5 205.4,359.5 C203.7,357.5 201.4,353.1 201.2,350.6 C200.9,348.1 202.5,346.8 203.9,344.7 C205.3,342.6 207.6,338.8 209.8,338.0Z" fill="#9a7ac8" filter="url(#hi)"/>
<path d="M202.5,369.5 C204.0,368.6 208.0,368.2 210.5,369.0 C213.0,369.8 215.7,372.3 217.5,374.5 C219.3,376.7 221.0,379.8 221.5,382.0 C222.0,384.2 220.2,386.4 220.5,388.0 C220.8,389.6 222.0,389.8 223.0,391.5 C224.0,393.2 226.1,395.8 226.5,398.0 C226.9,400.2 226.6,403.1 225.5,404.5 C224.4,405.9 222.3,406.5 220.2,406.5 C218.1,406.5 214.8,405.8 212.8,404.5 C210.8,403.2 209.2,400.8 208.4,398.5 C207.6,396.2 208.8,393.6 208.0,391.0 C207.2,388.4 204.6,385.8 203.5,383.0 C202.4,380.2 201.7,376.6 201.5,374.3 C201.3,372.1 201.0,370.4 202.5,369.5Z" fill="#34e6bc"/>
<path d="M266.0,360.5 C267.0,359.2 270.7,357.8 273.0,356.0 C275.3,354.2 278.0,351.9 280.0,350.0 C282.0,348.1 282.9,345.3 285.0,344.6 C287.1,343.9 291.4,344.3 292.7,346.0 C293.9,347.7 292.7,352.0 292.5,355.0 C292.3,358.0 293.2,362.0 291.5,364.0 C289.8,366.0 285.1,366.6 282.0,367.0 C278.9,367.4 275.5,367.0 273.0,366.5 C270.5,366.0 268.2,365.0 267.0,364.0 C265.8,363.0 265.0,361.8 266.0,360.5Z" fill="#c6aca8"/>
<path d="M266.0,360.5 C267.0,359.2 270.7,357.8 273.0,356.0 C275.3,354.2 278.0,351.9 280.0,350.0 C282.0,348.1 282.9,345.3 285.0,344.6 C287.1,343.9 291.4,344.3 292.7,346.0 C293.9,347.7 292.7,352.0 292.5,355.0 C292.3,358.0 293.2,362.0 291.5,364.0 C289.8,366.0 285.1,366.6 282.0,367.0 C278.9,367.4 275.5,367.0 273.0,366.5 C270.5,366.0 268.2,365.0 267.0,364.0 C265.8,363.0 265.0,361.8 266.0,360.5Z" fill="#8e5a52" filter="url(#mid)"/>
<ellipse cx="302.3" cy="359.8" rx="8.1" ry="9.6" transform="rotate(-25.0 302.3 359.8)" fill="#e07cd0"/>
<ellipse cx="262.0" cy="363.0" rx="5.0" ry="3.6" transform="rotate(0.0 262.0 363.0)" fill="#87d6e7"/>
<ellipse cx="262.0" cy="363.0" rx="5.0" ry="3.6" transform="rotate(0.0 262.0 363.0)" fill="#38bcd8" filter="url(#hi)"/>
<ellipse cx="276.0" cy="370.8" rx="3.6" ry="3.0" transform="rotate(0.0 276.0 370.8)" fill="#87d6e7"/>
<ellipse cx="276.0" cy="370.8" rx="3.6" ry="3.0" transform="rotate(0.0 276.0 370.8)" fill="#38bcd8" filter="url(#hi)"/>
<path d="M276.2,414.5 C276.7,413.2 280.7,410.8 283.0,408.0 C285.3,405.2 287.7,401.0 290.0,398.0 C292.3,395.0 295.2,391.9 297.0,390.0 C298.8,388.1 300.1,386.6 300.8,386.8 C301.6,387.0 302.1,389.1 301.5,391.0 C300.9,392.9 298.6,395.2 297.0,398.0 C295.4,400.8 293.7,405.8 292.0,408.0 C290.3,410.2 289.0,410.2 287.0,411.5 C285.0,412.8 281.8,415.0 280.0,415.5 C278.2,416.0 275.7,415.8 276.2,414.5Z" fill="#8787b3"/>
<path d="M276.2,414.5 C276.7,413.2 280.7,410.8 283.0,408.0 C285.3,405.2 287.7,401.0 290.0,398.0 C292.3,395.0 295.2,391.9 297.0,390.0 C298.8,388.1 300.1,386.6 300.8,386.8 C301.6,387.0 302.1,389.1 301.5,391.0 C300.9,392.9 298.6,395.2 297.0,398.0 C295.4,400.8 293.7,405.8 292.0,408.0 C290.3,410.2 289.0,410.2 287.0,411.5 C285.0,412.8 281.8,415.0 280.0,415.5 C278.2,416.0 275.7,415.8 276.2,414.5Z" fill="#101068" filter="url(#hi)"/>
<ellipse cx="289.0" cy="407.0" rx="3.6" ry="2.4" transform="rotate(-35.0 289.0 407.0)" fill="#101068"/>
<path d="M458.0,374.0 C461.0,373.2 468.3,377.0 470.0,380.0 C471.7,383.0 470.0,388.0 468.0,392.0 C466.0,396.0 461.0,402.7 458.0,404.0 C455.0,405.3 451.0,403.2 450.0,400.0 C449.0,396.8 450.7,389.3 452.0,385.0 C453.3,380.7 455.0,374.8 458.0,374.0Z" fill="#eeecca"/>
<path d="M458.0,374.0 C461.0,373.2 468.3,377.0 470.0,380.0 C471.7,383.0 470.0,388.0 468.0,392.0 C466.0,396.0 461.0,402.7 458.0,404.0 C455.0,405.3 451.0,403.2 450.0,400.0 C449.0,396.8 450.7,389.3 452.0,385.0 C453.3,380.7 455.0,374.8 458.0,374.0Z" fill="#bdb52e" filter="url(#vlo)"/>
<path d="M411.9,366.9 C414.1,365.6 418.3,364.4 422.7,363.8 C427.1,363.2 433.9,362.5 438.0,363.0 C442.1,363.5 443.7,365.0 447.3,366.9 C450.9,368.8 456.8,371.5 459.6,374.6 C462.4,377.7 463.7,381.5 464.2,385.4 C464.7,389.2 464.0,394.1 462.7,397.7 C461.4,401.3 459.3,404.3 456.5,406.9 C453.7,409.4 450.2,411.9 445.8,413.0 C441.4,414.1 435.0,415.1 430.4,413.8 C425.8,412.5 421.3,408.9 418.0,405.4 C414.7,401.9 411.9,397.4 410.4,393.0 C408.9,388.6 408.9,382.8 408.8,379.2 C408.7,375.6 409.1,373.6 409.6,371.5 C410.1,369.4 409.7,368.2 411.9,366.9Z" fill="#cec969"/>
<path d="M411.9,366.9 C414.1,365.6 418.3,364.4 422.7,363.8 C427.1,363.2 433.9,362.5 438.0,363.0 C442.1,363.5 443.7,365.0 447.3,366.9 C450.9,368.8 456.8,371.5 459.6,374.6 C462.4,377.7 463.7,381.5 464.2,385.4 C464.7,389.2 464.0,394.1 462.7,397.7 C461.4,401.3 459.3,404.3 456.5,406.9 C453.7,409.4 450.2,411.9 445.8,413.0 C441.4,414.1 435.0,415.1 430.4,413.8 C425.8,412.5 421.3,408.9 418.0,405.4 C414.7,401.9 411.9,397.4 410.4,393.0 C408.9,388.6 408.9,382.8 408.8,379.2 C408.7,375.6 409.1,373.6 409.6,371.5 C410.1,369.4 409.7,368.2 411.9,366.9Z" fill="#bab22a" filter="url(#hi)"/>
<ellipse cx="406.5" cy="369.0" rx="3.8" ry="5.5" transform="rotate(20.0 406.5 369.0)" fill="#b6b6b6"/>
<ellipse cx="406.5" cy="369.0" rx="3.8" ry="5.5" transform="rotate(20.0 406.5 369.0)" fill="#868686" filter="url(#mid)"/>
<path d="M415.4,330.8 C417.0,328.6 418.9,325.4 421.5,323.0 C424.1,320.6 426.8,318.5 430.8,316.2 C434.8,313.9 440.4,309.6 445.4,309.2 C450.4,308.8 456.9,311.8 460.8,313.8 C464.7,315.9 467.5,318.7 468.5,321.5 C469.5,324.3 468.6,328.1 467.0,330.8 C465.4,333.5 461.7,337.1 459.2,337.7 C456.7,338.3 455.5,334.8 452.0,334.5 C448.5,334.2 441.8,335.3 438.0,336.0 C434.2,336.7 431.3,338.5 429.0,338.5 C426.7,338.5 425.7,336.2 424.0,336.0 C422.3,335.8 420.7,336.5 419.0,337.0 C417.3,337.5 415.2,339.2 414.0,339.0 C412.8,338.8 411.8,337.4 412.0,336.0 C412.2,334.6 413.8,333.0 415.4,330.8Z" fill="#f19f9f"/>
<path d="M415.4,330.8 C417.0,328.6 418.9,325.4 421.5,323.0 C424.1,320.6 426.8,318.5 430.8,316.2 C434.8,313.9 440.4,309.6 445.4,309.2 C450.4,308.8 456.9,311.8 460.8,313.8 C464.7,315.9 467.5,318.7 468.5,321.5 C469.5,324.3 468.6,328.1 467.0,330.8 C465.4,333.5 461.7,337.1 459.2,337.7 C456.7,338.3 455.5,334.8 452.0,334.5 C448.5,334.2 441.8,335.3 438.0,336.0 C434.2,336.7 431.3,338.5 429.0,338.5 C426.7,338.5 425.7,336.2 424.0,336.0 C422.3,335.8 420.7,336.5 419.0,337.0 C417.3,337.5 415.2,339.2 414.0,339.0 C412.8,338.8 411.8,337.4 412.0,336.0 C412.2,334.6 413.8,333.0 415.4,330.8Z" fill="#e02a2a" filter="url(#mid)"/>
<path d="M410.4,339.2 C411.4,338.2 416.2,337.6 418.0,337.7 C419.8,337.8 421.4,338.9 421.2,340.0 C420.9,341.1 418.0,344.0 416.5,344.6 C415.0,345.2 413.0,344.7 412.0,343.8 C411.0,342.9 409.4,340.2 410.4,339.2Z" fill="#f01818"/>
<ellipse cx="411.0" cy="334.5" rx="2.5" ry="2.0" transform="rotate(0.0 411.0 334.5)" fill="#f49030"/>
<path d="M410.8,325.0 C411.5,322.8 413.6,320.6 416.0,318.0 C418.4,315.4 422.2,311.4 425.0,309.5 C427.8,307.6 431.5,306.4 433.0,306.5 C434.5,306.6 435.2,308.1 434.0,310.0 C432.8,311.9 428.5,315.0 426.0,318.0 C423.5,321.0 421.3,325.8 419.0,328.0 C416.7,330.2 413.4,331.5 412.0,331.0 C410.6,330.5 410.1,327.2 410.8,325.0Z" fill="#9ccd99"/>
<path d="M410.8,325.0 C411.5,322.8 413.6,320.6 416.0,318.0 C418.4,315.4 422.2,311.4 425.0,309.5 C427.8,307.6 431.5,306.4 433.0,306.5 C434.5,306.6 435.2,308.1 434.0,310.0 C432.8,311.9 428.5,315.0 426.0,318.0 C423.5,321.0 421.3,325.8 419.0,328.0 C416.7,330.2 413.4,331.5 412.0,331.0 C410.6,330.5 410.1,327.2 410.8,325.0Z" fill="#3a9c34" filter="url(#hi)"/>
<path d="M427.3,350.0 C427.7,348.1 428.3,345.6 430.4,343.8 C432.4,342.0 435.5,340.5 439.6,339.2 C443.7,337.9 451.7,335.7 455.0,336.2 C458.3,336.7 459.4,340.0 459.6,342.3 C459.9,344.6 459.1,347.7 456.5,350.0 C453.9,352.3 448.0,354.8 444.2,356.2 C440.4,357.6 436.2,358.6 433.5,358.5 C430.8,358.4 429.0,356.8 428.0,355.4 C427.0,354.0 426.9,351.9 427.3,350.0Z" fill="#fff" stroke="#fff" stroke-width="3"/>
<path d="M427.3,350.0 C427.7,348.1 428.3,345.6 430.4,343.8 C432.4,342.0 435.5,340.5 439.6,339.2 C443.7,337.9 451.7,335.7 455.0,336.2 C458.3,336.7 459.4,340.0 459.6,342.3 C459.9,344.6 459.1,347.7 456.5,350.0 C453.9,352.3 448.0,354.8 444.2,356.2 C440.4,357.6 436.2,358.6 433.5,358.5 C430.8,358.4 429.0,356.8 428.0,355.4 C427.0,354.0 426.9,351.9 427.3,350.0Z" fill="#8d94cd"/>
<path d="M427.3,350.0 C427.7,348.1 428.3,345.6 430.4,343.8 C432.4,342.0 435.5,340.5 439.6,339.2 C443.7,337.9 451.7,335.7 455.0,336.2 C458.3,336.7 459.4,340.0 459.6,342.3 C459.9,344.6 459.1,347.7 456.5,350.0 C453.9,352.3 448.0,354.8 444.2,356.2 C440.4,357.6 436.2,358.6 433.5,358.5 C430.8,358.4 429.0,356.8 428.0,355.4 C427.0,354.0 426.9,351.9 427.3,350.0Z" fill="#1c2a9c" filter="url(#hi)"/>
<path d="M393.8,338.5 C394.3,338.0 401.0,338.8 401.5,339.2 C402.0,339.6 405.5,348.3 405.4,349.2 C405.3,350.1 399.1,361.1 398.5,361.5 C397.9,361.9 390.4,360.4 390.0,360.0 C389.6,359.6 388.3,351.7 388.5,350.8 C388.7,349.9 393.3,339.0 393.8,338.5Z" fill="#c2afde"/>
<path d="M393.8,338.5 C394.3,338.0 401.0,338.8 401.5,339.2 C402.0,339.6 405.5,348.3 405.4,349.2 C405.3,350.1 399.1,361.1 398.5,361.5 C397.9,361.9 390.4,360.4 390.0,360.0 C389.6,359.6 388.3,351.7 388.5,350.8 C388.7,349.9 393.3,339.0 393.8,338.5Z" fill="#9a7ac8" filter="url(#hi)"/>
<ellipse cx="471.0" cy="344.0" rx="4.5" ry="3.5" transform="rotate(0.0 471.0 344.0)" fill="#8e5a52"/>
<path d="M453.5,357.7 C454.4,355.4 459.7,351.9 462.0,350.0 C464.3,348.1 465.3,346.2 467.3,346.0 C469.3,345.8 473.2,347.0 474.0,349.0 C474.8,351.0 473.1,355.3 472.0,358.0 C470.9,360.7 469.9,364.4 467.3,365.4 C464.7,366.4 458.8,365.1 456.5,363.8 C454.2,362.5 452.6,360.0 453.5,357.7Z" fill="#c6aca8"/>
<path d="M453.5,357.7 C454.4,355.4 459.7,351.9 462.0,350.0 C464.3,348.1 465.3,346.2 467.3,346.0 C469.3,345.8 473.2,347.0 474.0,349.0 C474.8,351.0 473.1,355.3 472.0,358.0 C470.9,360.7 469.9,364.4 467.3,365.4 C464.7,366.4 458.8,365.1 456.5,363.8 C454.2,362.5 452.6,360.0 453.5,357.7Z" fill="#8e5a52" filter="url(#hi)"/>
<path d="M474.6,352.3 C476.6,351.0 481.2,350.7 484.0,352.0 C486.8,353.3 491.2,357.7 491.5,360.0 C491.8,362.3 488.2,365.0 486.0,366.0 C483.8,367.0 480.3,367.0 478.0,366.0 C475.7,365.0 472.6,362.3 472.0,360.0 C471.4,357.7 472.6,353.6 474.6,352.3Z" fill="#f5ddf3"/>
<path d="M474.6,352.3 C476.6,351.0 481.2,350.7 484.0,352.0 C486.8,353.3 491.2,357.7 491.5,360.0 C491.8,362.3 488.2,365.0 486.0,366.0 C483.8,367.0 480.3,367.0 478.0,366.0 C475.7,365.0 472.6,362.3 472.0,360.0 C471.4,357.7 472.6,353.6 474.6,352.3Z" fill="#e090d8" filter="url(#lo)"/>
<path d="M389.2,379.6 C390.0,378.3 391.9,377.3 395.0,380.0 C398.1,382.7 405.6,392.5 407.7,396.0 C409.8,399.5 409.0,400.4 407.7,401.2 C406.4,402.0 402.9,403.2 400.0,401.0 C397.1,398.8 391.8,391.6 390.0,388.0 C388.2,384.4 388.4,380.9 389.2,379.6Z" fill="#adf5e4"/>
<path d="M389.2,379.6 C390.0,378.3 391.9,377.3 395.0,380.0 C398.1,382.7 405.6,392.5 407.7,396.0 C409.8,399.5 409.0,400.4 407.7,401.2 C406.4,402.0 402.9,403.2 400.0,401.0 C397.1,398.8 391.8,391.6 390.0,388.0 C388.2,384.4 388.4,380.9 389.2,379.6Z" fill="#34e6bc" filter="url(#lo)"/>
<path d="M438.0,361.0 C439.0,359.9 444.7,359.2 447.0,359.5 C449.3,359.8 451.7,361.8 452.0,363.0 C452.3,364.2 450.8,366.5 449.0,367.0 C447.2,367.5 442.8,367.0 441.0,366.0 C439.2,365.0 437.0,362.1 438.0,361.0Z" fill="#73d0e3"/>
<path d="M438.0,361.0 C439.0,359.9 444.7,359.2 447.0,359.5 C449.3,359.8 451.7,361.8 452.0,363.0 C452.3,364.2 450.8,366.5 449.0,367.0 C447.2,367.5 442.8,367.0 441.0,366.0 C439.2,365.0 437.0,362.1 438.0,361.0Z" fill="#38bcd8" filter="url(#hi)"/>
<path d="M455.0,369.0 C456.3,368.4 461.7,368.0 462.7,368.5 C463.7,369.0 462.3,371.4 461.0,372.0 C459.7,372.6 456.0,372.5 455.0,372.0 C454.0,371.5 453.7,369.6 455.0,369.0Z" fill="#38bcd8"/>
<path d="M460.0,414.5 C460.5,412.9 465.0,409.1 468.0,406.0 C471.0,402.9 475.0,399.0 478.0,396.0 C481.0,393.0 484.2,389.6 486.0,388.0 C487.8,386.4 488.0,385.8 488.5,386.5 C489.0,387.2 489.8,389.6 489.0,392.0 C488.2,394.4 486.5,398.0 484.0,401.0 C481.5,404.0 477.2,407.6 474.0,410.0 C470.8,412.4 467.3,414.8 465.0,415.5 C462.7,416.2 459.5,416.1 460.0,414.5Z" fill="#101068"/>
<path d="M239.6,497.7 C242.5,497.0 250.3,495.6 253.5,496.9 C256.7,498.2 257.8,501.9 258.8,505.4 C259.8,508.9 260.2,514.5 259.6,517.7 C259.0,520.9 257.6,522.8 255.0,524.6 C252.4,526.4 246.4,526.3 244.2,528.5 C242.0,530.7 243.0,534.1 242.0,537.7 C241.0,541.3 240.7,547.0 238.0,550.0 C235.3,553.0 229.9,554.9 225.8,555.4 C221.7,555.9 216.5,554.9 213.5,553.0 C210.5,551.1 208.2,546.7 208.0,543.8 C207.8,540.9 209.3,537.6 212.0,535.4 C214.7,533.2 220.9,532.7 224.2,530.8 C227.5,528.9 230.4,527.5 232.0,523.8 C233.6,520.1 232.9,512.3 233.5,508.5 C234.1,504.7 234.8,502.6 235.8,500.8 C236.8,499.0 236.7,498.4 239.6,497.7Z" fill="#bfb848"/>
<path d="M239.6,497.7 C242.5,497.0 250.3,495.6 253.5,496.9 C256.7,498.2 257.8,501.9 258.8,505.4 C259.8,508.9 260.2,514.5 259.6,517.7 C259.0,520.9 257.6,522.8 255.0,524.6 C252.4,526.4 246.4,526.3 244.2,528.5 C242.0,530.7 243.0,534.1 242.0,537.7 C241.0,541.3 240.7,547.0 238.0,550.0 C235.3,553.0 229.9,554.9 225.8,555.4 C221.7,555.9 216.5,554.9 213.5,553.0 C210.5,551.1 208.2,546.7 208.0,543.8 C207.8,540.9 209.3,537.6 212.0,535.4 C214.7,533.2 220.9,532.7 224.2,530.8 C227.5,528.9 230.4,527.5 232.0,523.8 C233.6,520.1 232.9,512.3 233.5,508.5 C234.1,504.7 234.8,502.6 235.8,500.8 C236.8,499.0 236.7,498.4 239.6,497.7Z" fill="#b4ac28" filter="url(#hi)"/>
<path d="M215.0,503.8 C217.1,503.8 219.5,505.3 221.2,508.5 C222.9,511.7 225.3,519.8 225.0,523.0 C224.7,526.2 221.8,527.6 219.6,527.7 C217.4,527.8 214.3,525.7 212.0,523.8 C209.7,521.9 206.3,518.8 205.8,516.2 C205.3,513.7 207.3,510.6 208.8,508.5 C210.3,506.4 212.9,503.8 215.0,503.8Z" fill="#87d6e7"/>
<path d="M215.0,503.8 C217.1,503.8 219.5,505.3 221.2,508.5 C222.9,511.7 225.3,519.8 225.0,523.0 C224.7,526.2 221.8,527.6 219.6,527.7 C217.4,527.8 214.3,525.7 212.0,523.8 C209.7,521.9 206.3,518.8 205.8,516.2 C205.3,513.7 207.3,510.6 208.8,508.5 C210.3,506.4 212.9,503.8 215.0,503.8Z" fill="#38bcd8" filter="url(#hi)"/>
<ellipse cx="200.0" cy="529.0" rx="3.2" ry="5.2" transform="rotate(20.0 200.0 529.0)" fill="#868686"/>
<defs><linearGradient id="ngH" gradientUnits="userSpaceOnUse" x1="272" y1="548" x2="248" y2="582"><stop offset="0.2" stop-color="#fff" stop-opacity="0"/><stop offset="0.8" stop-color="#fff" stop-opacity="0.9"/></linearGradient><mask id="mH"><rect x="200" y="480" width="120" height="130" fill="url(#ngH)"/></mask></defs>
<path d="M247.0,535.0 C250.9,531.8 258.7,528.8 263.8,528.8 C268.8,528.8 273.8,531.0 277.3,535.0 C280.8,539.0 284.2,546.2 285.0,552.5 C285.8,558.8 284.5,567.6 282.0,573.0 C279.5,578.4 274.5,582.4 270.0,585.0 C265.5,587.6 259.5,589.6 255.0,588.8 C250.5,587.9 245.7,583.8 243.0,580.0 C240.3,576.2 239.2,571.3 238.8,566.0 C238.3,560.7 239.1,553.2 240.5,548.0 C241.9,542.8 243.1,538.2 247.0,535.0Z" fill="#0c0c66"/>
<g mask="url(#mH)">
<path d="M247.0,535.0 C250.9,531.8 258.7,528.8 263.8,528.8 C268.8,528.8 273.8,531.0 277.3,535.0 C280.8,539.0 284.2,546.2 285.0,552.5 C285.8,558.8 284.5,567.6 282.0,573.0 C279.5,578.4 274.5,582.4 270.0,585.0 C265.5,587.6 259.5,589.6 255.0,588.8 C250.5,587.9 245.7,583.8 243.0,580.0 C240.3,576.2 239.2,571.3 238.8,566.0 C238.3,560.7 239.1,553.2 240.5,548.0 C241.9,542.8 243.1,538.2 247.0,535.0Z" fill="#9a9ad0" filter="url(#mid)"/>
<path d="M247.0,535.0 C250.9,531.8 258.7,528.8 263.8,528.8 C268.8,528.8 273.8,531.0 277.3,535.0 C280.8,539.0 284.2,546.2 285.0,552.5 C285.8,558.8 284.5,567.6 282.0,573.0 C279.5,578.4 274.5,582.4 270.0,585.0 C265.5,587.6 259.5,589.6 255.0,588.8 C250.5,587.9 245.7,583.8 243.0,580.0 C240.3,576.2 239.2,571.3 238.8,566.0 C238.3,560.7 239.1,553.2 240.5,548.0 C241.9,542.8 243.1,538.2 247.0,535.0Z" fill="#e8e8f4" filter="url(#vlo)"/>
</g>
<g mask="url(#mH)">
<path d="M240.0,573.0 C240.7,571.0 245.0,570.2 248.0,571.0 C251.0,571.8 255.8,575.3 258.0,578.0 C260.2,580.7 261.8,585.2 261.0,587.0 C260.2,588.8 255.8,589.7 253.0,589.0 C250.2,588.3 246.2,585.7 244.0,583.0 C241.8,580.3 239.3,575.0 240.0,573.0Z" fill="#9a7060" filter="url(#hi)"/>
</g>
<path d="M213.8,566.2 C215.0,565.0 225.2,562.9 227.3,563.3 C229.4,563.7 234.4,568.0 235.0,570.0 C235.6,572.0 234.5,582.1 233.0,583.5 C231.5,584.9 221.3,584.3 219.6,583.5 C217.9,582.7 216.4,577.5 215.8,575.8 C215.2,574.1 212.7,567.5 213.8,566.2Z" fill="#6c2cd0"/>
<path d="M250.4,593.0 C252.0,591.1 263.2,588.6 265.8,589.2 C268.4,589.9 267.4,595.0 265.8,596.9 C264.2,598.8 258.8,601.4 256.2,600.8 C253.6,600.1 248.8,594.9 250.4,593.0Z" fill="#f5d2ef"/>
<path d="M250.4,593.0 C252.0,591.1 263.2,588.6 265.8,589.2 C268.4,589.9 267.4,595.0 265.8,596.9 C264.2,598.8 258.8,601.4 256.2,600.8 C253.6,600.1 248.8,594.9 250.4,593.0Z" fill="#e690d8" filter="url(#mid)"/>
<path d="M262.3,499.2 C262.5,499.0 268.3,501.9 268.5,502.3 C268.7,502.7 265.7,507.2 265.4,507.0 C265.1,506.8 262.1,499.4 262.3,499.2Z" fill="#e81414"/>
<path d="M262.3,513.8 C263.1,512.8 267.7,511.1 270.0,510.0 C272.3,508.9 274.2,507.2 276.0,507.0 C277.8,506.8 280.3,507.5 280.8,508.5 C281.3,509.5 279.8,511.6 279.0,513.0 C278.2,514.4 277.2,517.0 276.0,517.0 C274.8,517.0 273.8,513.2 272.0,513.0 C270.2,512.8 266.6,515.9 265.0,516.0 C263.4,516.1 261.5,514.8 262.3,513.8Z" fill="#9bf3e9"/>
<path d="M262.3,513.8 C263.1,512.8 267.7,511.1 270.0,510.0 C272.3,508.9 274.2,507.2 276.0,507.0 C277.8,506.8 280.3,507.5 280.8,508.5 C281.3,509.5 279.8,511.6 279.0,513.0 C278.2,514.4 277.2,517.0 276.0,517.0 C274.8,517.0 273.8,513.2 272.0,513.0 C270.2,512.8 266.6,515.9 265.0,516.0 C263.4,516.1 261.5,514.8 262.3,513.8Z" fill="#38e8d4" filter="url(#hi)"/>
<ellipse cx="294.0" cy="521.5" rx="13.0" ry="10.0" transform="rotate(-10.0 294.0 521.5)" fill="#f4e07e"/>
<path d="M290.0,527.0 C292.2,523.8 298.8,523.8 302.0,526.0 C305.2,528.2 307.4,535.2 309.0,540.0 C310.6,544.8 311.8,550.8 311.5,555.0 C311.2,559.2 309.2,563.0 307.0,565.0 C304.8,567.0 301.2,567.8 298.5,567.0 C295.8,566.2 292.6,563.7 291.0,560.0 C289.4,556.3 289.2,550.5 289.0,545.0 C288.8,539.5 287.8,530.2 290.0,527.0Z" fill="#f7c18f"/>
<path d="M290.0,527.0 C292.2,523.8 298.8,523.8 302.0,526.0 C305.2,528.2 307.4,535.2 309.0,540.0 C310.6,544.8 311.8,550.8 311.5,555.0 C311.2,559.2 309.2,563.0 307.0,565.0 C304.8,567.0 301.2,567.8 298.5,567.0 C295.8,566.2 292.6,563.7 291.0,560.0 C289.4,556.3 289.2,550.5 289.0,545.0 C288.8,539.5 287.8,530.2 290.0,527.0Z" fill="#f08420" filter="url(#hi)"/>
<ellipse cx="293.0" cy="539.5" rx="6.0" ry="5.5" transform="rotate(0.0 293.0 539.5)" fill="#9274c4"/>
<path d="M292.7,570 L295.6,577.7" stroke="#2ea444" stroke-width="1.5"/>
<path d="M424.2,497.7 C427.3,496.9 434.8,495.9 438.0,497.7 C441.2,499.5 442.7,504.4 443.5,508.5 C444.3,512.6 445.1,519.1 442.7,522.3 C440.2,525.5 431.9,525.9 428.8,527.7 C425.7,529.5 425.5,529.5 424.2,533.0 C422.9,536.5 423.8,544.8 421.2,548.5 C418.6,552.2 412.9,554.9 408.8,555.4 C404.7,555.9 399.4,553.7 396.5,551.5 C393.6,549.3 391.2,545.1 391.2,542.3 C391.2,539.5 393.3,536.6 396.5,534.6 C399.7,532.6 407.1,532.6 410.4,530.0 C413.7,527.4 415.0,523.8 416.5,519.2 C418.0,514.6 418.3,505.9 419.6,502.3 C420.9,498.7 421.1,498.5 424.2,497.7Z" fill="#c3bc53"/>
<path d="M424.2,497.7 C427.3,496.9 434.8,495.9 438.0,497.7 C441.2,499.5 442.7,504.4 443.5,508.5 C444.3,512.6 445.1,519.1 442.7,522.3 C440.2,525.5 431.9,525.9 428.8,527.7 C425.7,529.5 425.5,529.5 424.2,533.0 C422.9,536.5 423.8,544.8 421.2,548.5 C418.6,552.2 412.9,554.9 408.8,555.4 C404.7,555.9 399.4,553.7 396.5,551.5 C393.6,549.3 391.2,545.1 391.2,542.3 C391.2,539.5 393.3,536.6 396.5,534.6 C399.7,532.6 407.1,532.6 410.4,530.0 C413.7,527.4 415.0,523.8 416.5,519.2 C418.0,514.6 418.3,505.9 419.6,502.3 C420.9,498.7 421.1,498.5 424.2,497.7Z" fill="#b4ac28" filter="url(#hi)"/>
<path d="M398.0,505.4 C400.3,503.9 403.9,504.9 405.8,507.0 C407.7,509.1 409.4,514.4 409.6,517.7 C409.9,521.0 409.2,525.5 407.3,527.0 C405.4,528.5 400.6,528.8 398.0,527.0 C395.4,525.2 392.0,519.8 392.0,516.2 C392.0,512.6 395.7,506.9 398.0,505.4Z" fill="#38bcd8"/>
<ellipse cx="383.0" cy="530.0" rx="3.2" ry="5.2" transform="rotate(30.0 383.0 530.0)" fill="#868686"/>
<path d="M421.5,566.0 C422.5,564.2 426.4,562.0 428.0,563.0 C429.6,564.0 430.0,569.1 431.0,572.0 C432.0,574.9 432.3,578.3 434.0,580.4 C435.7,582.5 439.8,583.3 441.0,584.5 C442.2,585.7 442.4,587.2 441.0,587.8 C439.6,588.4 435.4,589.0 432.7,588.0 C430.0,587.0 426.8,584.3 425.0,582.0 C423.2,579.7 422.6,576.7 422.0,574.0 C421.4,571.3 420.5,567.8 421.5,566.0Z" fill="#8e5c44"/>
<path d="M428.0,539.0 C431.9,534.8 439.3,530.9 445.0,530.6 C450.7,530.3 457.9,532.8 462.0,537.0 C466.1,541.2 468.6,550.0 469.3,556.0 C470.0,562.0 468.8,568.3 466.2,572.9 C463.6,577.5 457.7,581.4 453.5,583.5 C449.3,585.6 444.3,586.1 441.0,585.5 C437.7,584.9 435.5,582.8 433.5,580.0 C431.5,577.2 431.0,573.0 429.0,569.0 C427.0,565.0 421.9,561.0 421.7,556.0 C421.5,551.0 424.1,543.2 428.0,539.0Z" fill="#434394"/>
<path d="M428.0,539.0 C431.9,534.8 439.3,530.9 445.0,530.6 C450.7,530.3 457.9,532.8 462.0,537.0 C466.1,541.2 468.6,550.0 469.3,556.0 C470.0,562.0 468.8,568.3 466.2,572.9 C463.6,577.5 457.7,581.4 453.5,583.5 C449.3,585.6 444.3,586.1 441.0,585.5 C437.7,584.9 435.5,582.8 433.5,580.0 C431.5,577.2 431.0,573.0 429.0,569.0 C427.0,565.0 421.9,561.0 421.7,556.0 C421.5,551.0 424.1,543.2 428.0,539.0Z" fill="#14147a" filter="url(#hi)"/>
<path d="M398.5,568.7 C399.4,566.9 409.1,563.2 411.2,563.4 C413.3,563.6 418.9,568.9 419.6,570.8 C420.3,572.7 420.3,581.4 418.6,582.4 C416.9,583.4 404.7,582.7 402.7,581.3 C400.7,579.9 397.6,570.5 398.5,568.7Z" fill="#6c2cd0"/>
<path d="M434.4,592.0 C436.3,590.2 448.2,588.6 450.3,589.8 C452.4,591.0 449.0,597.5 447.1,599.3 C445.2,601.1 440.8,601.6 438.7,600.4 C436.6,599.2 432.5,593.8 434.4,592.0Z" fill="#e080d0"/>
<path d="M447.0,499.2 C447.4,499.2 456.1,506.6 456.2,507.0 C456.3,507.4 449.0,508.1 448.5,507.7 C448.0,507.3 446.6,499.2 447.0,499.2Z" fill="#e81414"/>
<path d="M448.0,513.0 C448.2,512.3 453.8,509.8 456.0,509.0 C458.2,508.2 459.4,508.0 461.0,508.5 C462.6,509.0 465.6,510.6 465.4,512.0 C465.2,513.4 461.7,516.8 460.0,517.0 C458.3,517.2 457.0,513.7 455.0,513.0 C453.0,512.3 447.8,513.7 448.0,513.0Z" fill="#38e8d4"/>
<path d="M447.0,520.8 C447.7,520.0 451.5,519.0 453.0,519.5 C454.5,520.0 456.9,523.0 456.2,523.8 C455.5,524.6 450.5,525.0 449.0,524.5 C447.5,524.0 446.3,521.6 447.0,520.8Z" fill="#b4ac28"/>
<ellipse cx="477.7" cy="522.3" rx="11.0" ry="9.0" transform="rotate(-10.0 477.7 522.3)" fill="#f4e07e"/>
<path d="M480.8,528.5 C481.5,527.2 486.5,526.0 488.0,527.0 C489.5,528.0 490.7,533.3 490.0,534.6 C489.3,535.9 485.5,536.0 484.0,535.0 C482.5,534.0 480.1,529.8 480.8,528.5Z" fill="#f08420"/>
<ellipse cx="477.0" cy="539.0" rx="5.5" ry="5.0" transform="rotate(0.0 477.0 539.0)" fill="#dcd5ec"/>
<ellipse cx="477.0" cy="539.0" rx="5.5" ry="5.0" transform="rotate(0.0 477.0 539.0)" fill="#a898d0" filter="url(#mid)"/>
<path d="M474.6,541.0 C476.1,538.5 481.5,543.5 485.0,545.0 C488.5,546.5 494.3,547.2 495.8,550.0 C497.3,552.8 496.1,559.2 494.0,562.0 C491.9,564.8 486.0,566.8 483.0,566.5 C480.0,566.2 477.4,564.2 476.0,560.0 C474.6,555.8 473.1,543.5 474.6,541.0Z" fill="#f7c18f"/>
<path d="M474.6,541.0 C476.1,538.5 481.5,543.5 485.0,545.0 C488.5,546.5 494.3,547.2 495.8,550.0 C497.3,552.8 496.1,559.2 494.0,562.0 C491.9,564.8 486.0,566.8 483.0,566.5 C480.0,566.2 477.4,564.2 476.0,560.0 C474.6,555.8 473.1,543.5 474.6,541.0Z" fill="#f08420" filter="url(#hi)"/>
<path d="M476.7,570.8 L481,578.2" stroke="#2ea444" stroke-width="1.5"/></g>
<rect x="0.5" y="0.5" width="519" height="640" fill="none" stroke="#3c3c3c" stroke-width="1.2"/>
</svg>
</body></html>
